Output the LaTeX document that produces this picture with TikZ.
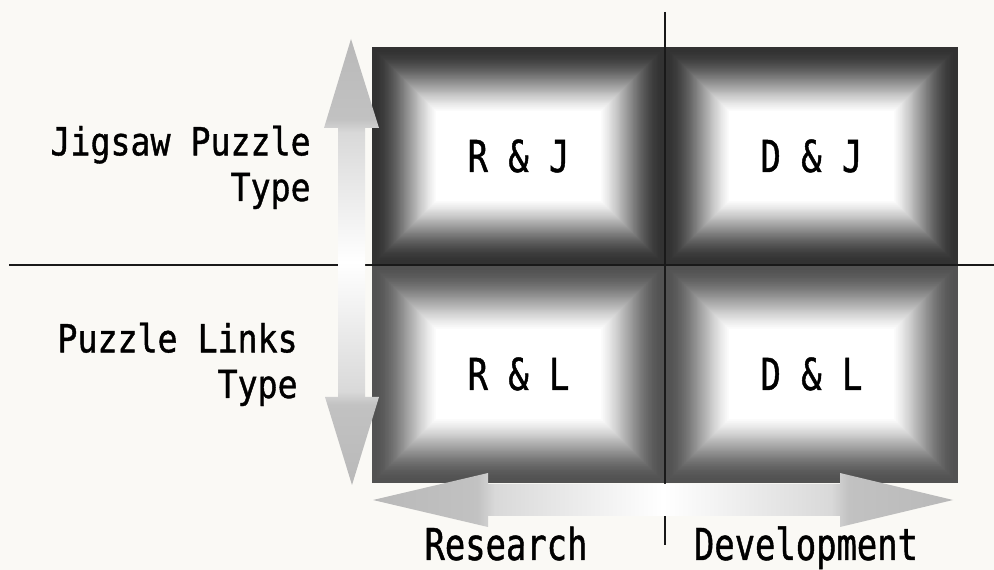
\documentclass[tikz,border=0pt]{standalone}
\usepackage{fontspec}
\usepackage{tikz}
\usepackage{xcolor}
\usetikzlibrary{positioning}
\newfontfamily\gothic[FakeStretch=0.77, FakeBold=1]{DejaVu Sans Mono}
\newfontfamily\gothicside[FakeStretch=0.86, FakeBold=1]{DejaVu Sans Mono}
\definecolor{paperWhite}{RGB}{250,249,245}
\definecolor{cellDark}{RGB}{50,50,50}
\definecolor{cellMid}{RGB}{82,82,82}
\pgfdeclarehorizontalshading{dblArrow}{100bp}{color(0bp)=(gray!55); color(25bp)=(gray!55);
  color(34bp)=(gray!48); color(35.5bp)=(gray!30); color(50bp)=(white);
  color(64.5bp)=(gray!30); color(66bp)=(gray!48); color(75bp)=(gray!55); color(100bp)=(gray!55)}
\tikzset{
  pillow/.style={fill=#1, outer sep=0pt, inner sep=0pt,
    minimum width=5.86cm, minimum height=4.36cm,
    font=\gothic\fontsize{25}{29}\selectfont,
    path picture={
      \foreach \ins in {0,1,...,64}{
        \pgfmathsetmacro\tt{\ins/64}
        \pgfmathtruncatemacro\pct{100*\tt*\tt*(2.2-1.2*\tt)}
        \fill[white!\pct!#1]
          ([shift={(\ins*0.02cm,\ins*0.02cm)}]path picture bounding box.south west) rectangle
          ([shift={(-\ins*0.02cm,-\ins*0.02cm)}]path picture bounding box.north east);
      }
    }},
  axisline/.style={line width=0.9pt, black!90},
  sidelabel/.style={align=right, inner sep=0pt, font=\gothicside\fontsize{22}{26}\selectfont},
  axislabel/.style={inner sep=0pt, font=\gothic\fontsize{25}{29}\selectfont}
}

\begin{document}
\begin{tikzpicture}[x=0.02cm, y=-0.02cm]
    \fill[paperWhite] (0,0) rectangle (994,570);
    \useasboundingbox (0,0) rectangle (994,570);

    \node[pillow=cellDark] (rj) at (518.5,156) {R \& J};
    \node[pillow=cellDark, right=0pt of rj] (dj) {D \& J};
    \node[pillow=cellMid, below=0pt of rj] (rl) {R \& L};
    \node[pillow=cellMid, below=0pt of dj] (dl) {D \& L};

    \coordinate (vtop) at (665,12);
    \coordinate (vbot) at (665,545);
    \coordinate (hleft) at (9,265);
    \coordinate (hright) at (994,265);
    \draw[axisline] (vtop) -- (vbot);
    \draw[axisline] (hleft) -- (hright);

    \shade[shading=dblArrow, shading angle=90]
      (351,39) -- (379,128) -- (365,128) -- (365,397) -- (379,397) -- (352,485)
      -- (325,397) -- (338,397) -- (338,128) -- (324,128) -- cycle;
    \shade[shading=dblArrow]
      (373,500) -- (488,473) -- (488,484) -- (840,484) -- (840,473) -- (953,500)
      -- (840,527) -- (840,516) -- (488,516) -- (488,527) -- cycle;

    \node[sidelabel, anchor=base east] (jigsaw) at (311,201) {Jigsaw Puzzle\\Type};
    \node[sidelabel, anchor=base east] (links) at (298,398) {Puzzle Links\\Type};
    \node[axislabel, anchor=base] (research) at (506,560) {Research};
    \node[axislabel, anchor=base] (development) at (806,560) {Development};
\end{tikzpicture}
\end{document}
